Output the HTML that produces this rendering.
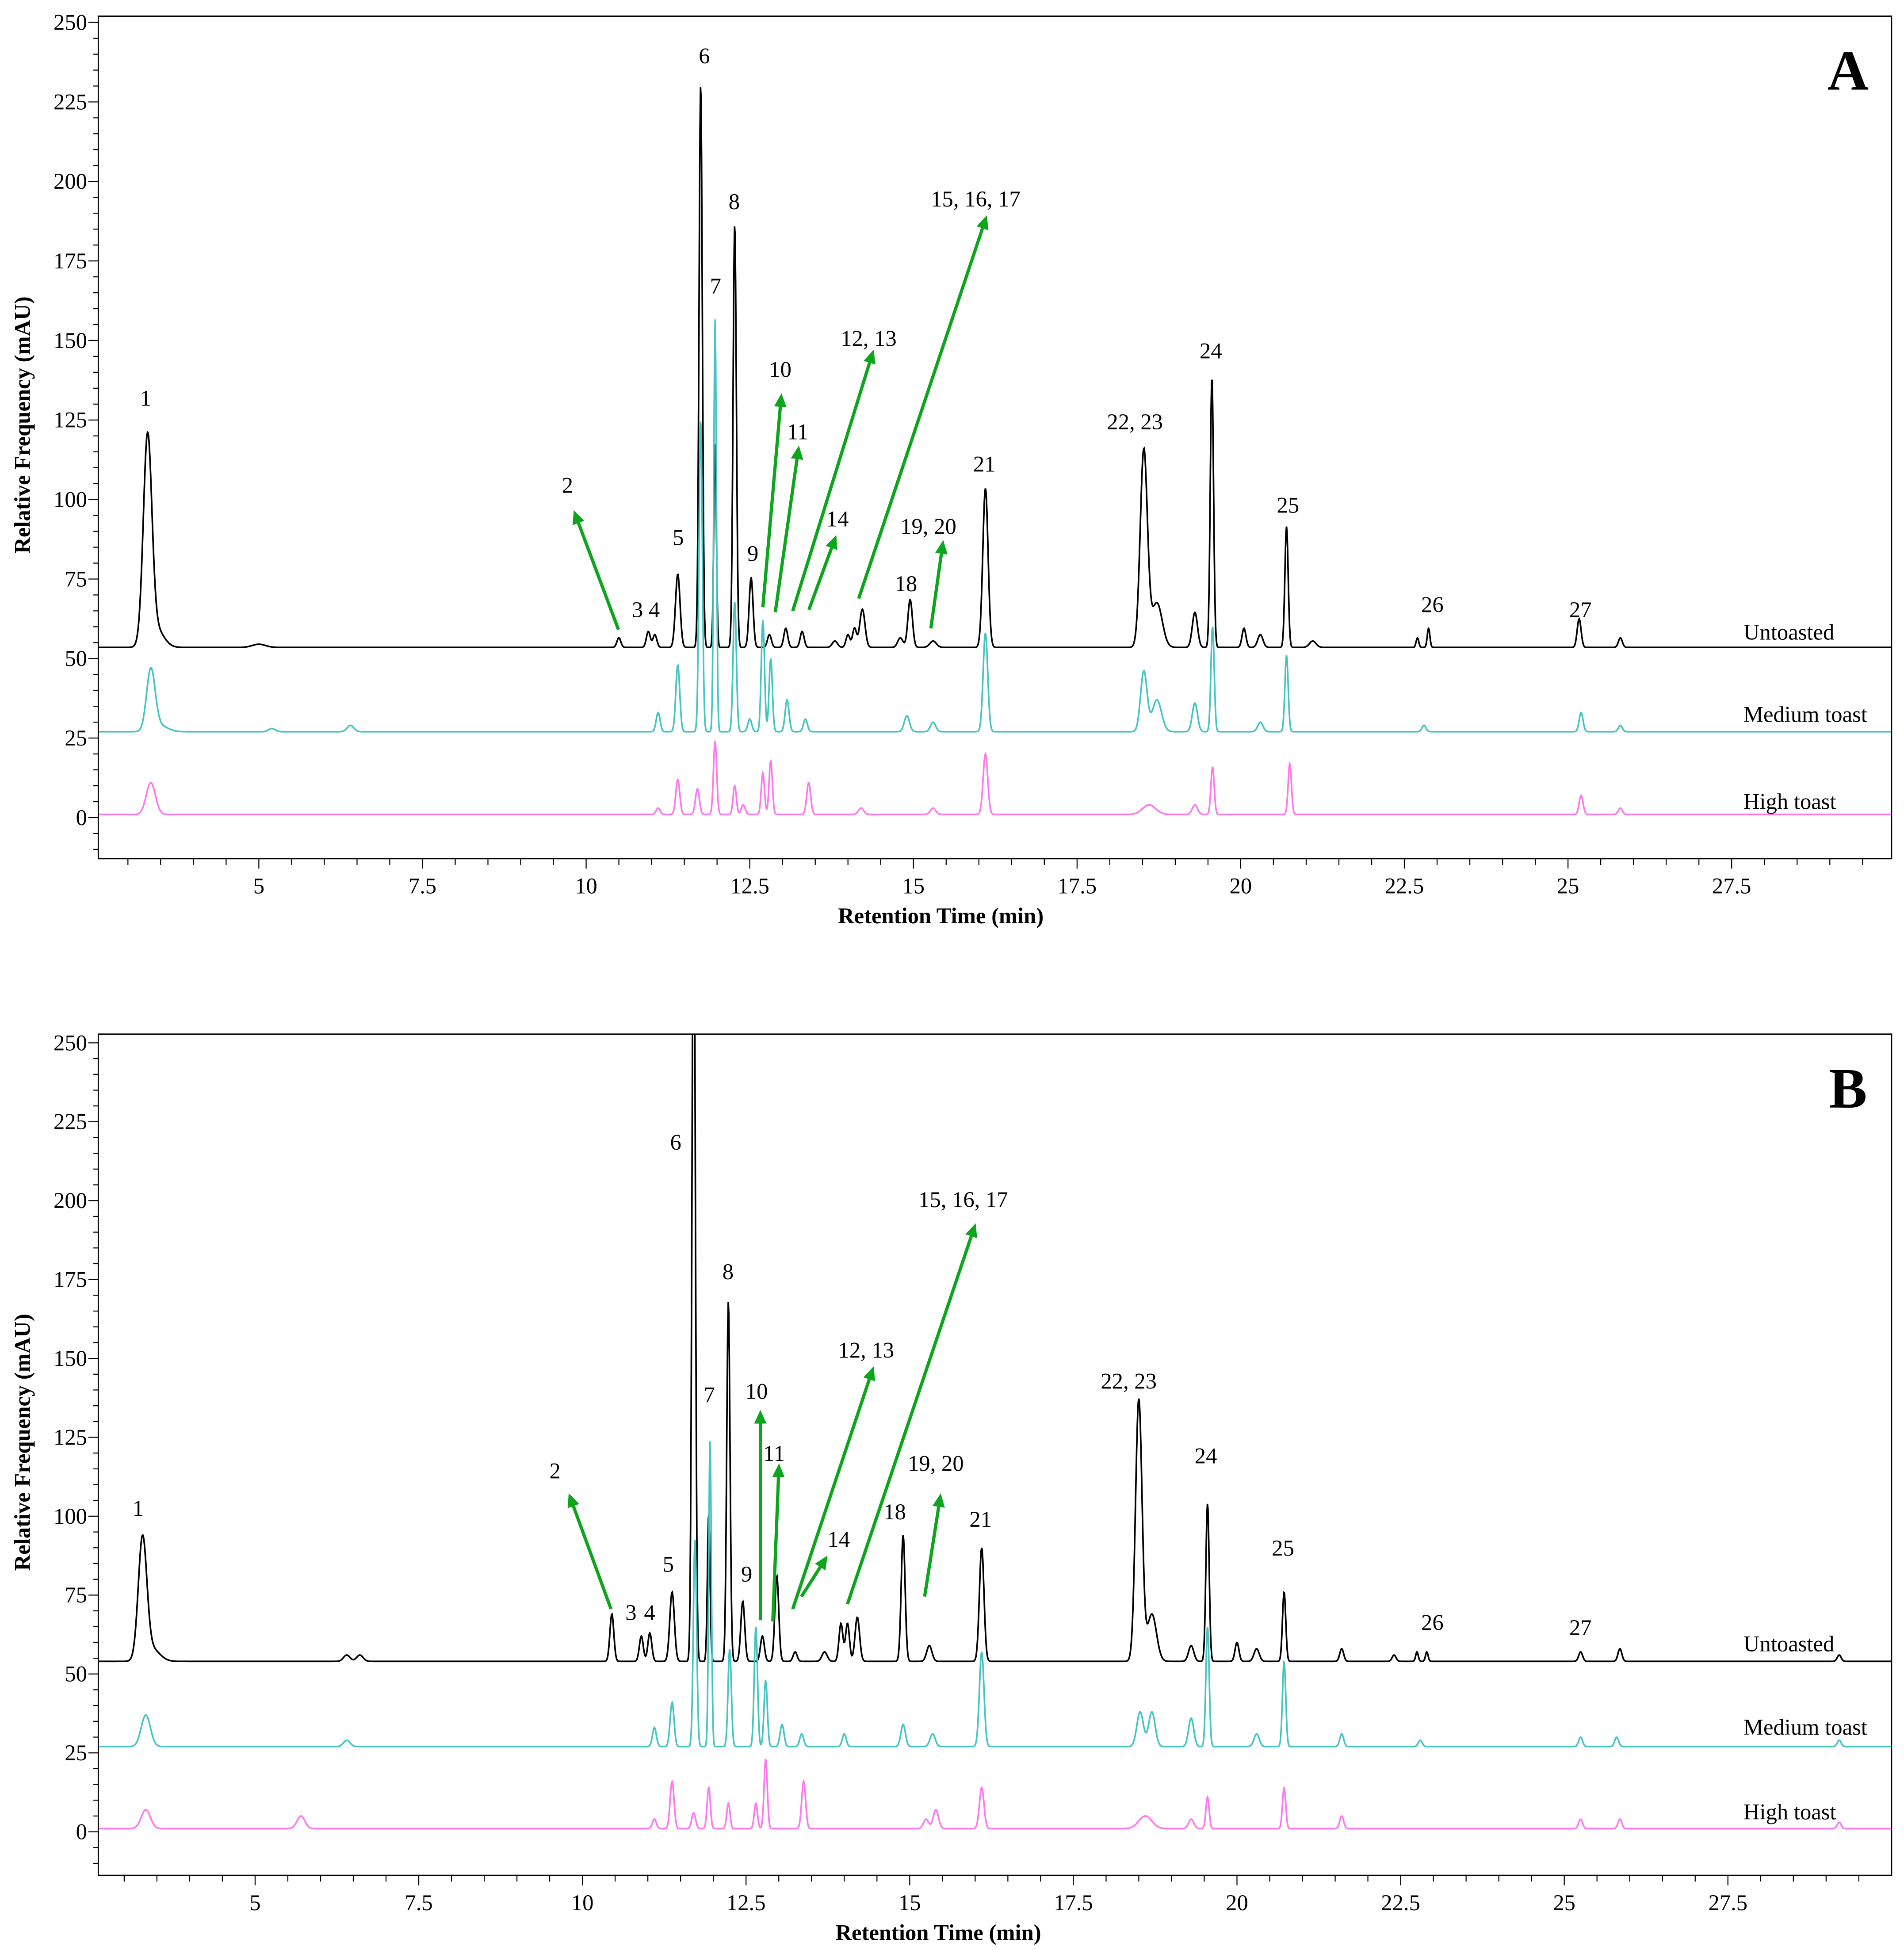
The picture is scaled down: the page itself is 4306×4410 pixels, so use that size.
<!DOCTYPE html>
<html><head><meta charset="utf-8"><style>
html,body{margin:0;padding:0;background:#fff}
svg{display:block}
text{font-family:"Liberation Serif",serif;fill:#000}
</style></head><body>
<svg id="chart" width="4306" height="4410" viewBox="0 0 1530 1567" preserveAspectRatio="none" xmlns="http://www.w3.org/2000/svg">
<rect x="0" y="0" width="1530" height="1567" fill="#fff"/>
</svg>
<script>
// ---- data: peaks [retention time (min), height above baseline (mAU), sigma (min)] ----
const baselinesA = [53.5, 27, 1];
const baselinesB = [54, 27, 1];
const seriesNames = ["Untoasted", "Medium toast", "High toast"];
const untoastedA = [[3.3,64,0.065],[3.42,6,0.12],[5.0,1,0.1],[10.5,3,0.03],[10.95,5,0.03],[11.05,4,0.03],[11.4,23,0.035],[11.75,177,0.025],[11.97,64,0.02],[12.27,133,0.025],[12.52,22,0.03],[12.8,4,0.03],[13.05,6,0.03],[13.3,5,0.03],[13.8,2,0.04],[14.0,4,0.03],[14.1,6,0.03],[14.22,12,0.04],[14.8,3,0.04],[14.95,15,0.035],[15.3,2,0.05],[16.1,50,0.04],[18.52,62,0.055],[18.72,14,0.08],[19.3,11,0.04],[19.56,85,0.025],[20.05,6,0.03],[20.3,4,0.04],[20.7,38,0.025],[21.1,2,0.05],[22.7,3,0.02],[22.87,6,0.02],[25.17,9,0.03],[25.8,3,0.03]];
const mediumA = [[3.35,19,0.065],[3.48,2,0.12],[5.2,1,0.05],[6.4,2,0.05],[11.1,6,0.03],[11.4,21,0.03],[11.75,98,0.025],[11.97,130,0.02],[12.27,41,0.025],[12.5,4,0.03],[12.7,35,0.025],[12.82,23,0.025],[13.07,10,0.03],[13.35,4,0.03],[14.9,5,0.04],[15.3,3,0.04],[16.1,31,0.035],[18.52,19,0.05],[18.72,10,0.07],[19.3,9,0.04],[19.57,33,0.025],[20.3,3,0.04],[20.7,24,0.025],[22.8,2,0.03],[25.2,6,0.03],[25.8,2,0.03]];
const highA = [[3.35,10,0.07],[11.1,2,0.03],[11.4,11,0.03],[11.7,8,0.03],[11.97,23,0.025],[12.27,9,0.025],[12.4,3,0.03],[12.7,13,0.025],[12.82,17,0.025],[13.4,10,0.03],[14.2,2,0.04],[15.3,2,0.04],[16.1,19,0.035],[18.6,3,0.1],[19.3,3,0.04],[19.57,15,0.025],[20.75,16,0.025],[25.2,6,0.03],[25.8,2,0.03]];
const untoastedB = [[3.28,38,0.065],[3.42,4,0.12],[6.4,2,0.05],[6.6,2,0.05],[10.45,15,0.03],[10.9,8,0.03],[11.03,9,0.03],[11.37,22,0.035],[11.7,260,0.025],[11.93,47,0.02],[12.23,114,0.025],[12.45,19,0.03],[12.75,8,0.03],[12.97,27,0.03],[13.25,3,0.03],[13.7,3,0.04],[13.95,12,0.03],[14.05,12,0.03],[14.2,14,0.035],[14.9,40,0.03],[15.3,5,0.04],[16.1,36,0.035],[18.5,83,0.05],[18.7,15,0.07],[19.3,5,0.04],[19.55,50,0.025],[20.0,6,0.03],[20.3,4,0.04],[20.72,22,0.025],[21.6,4,0.03],[22.4,2,0.03],[22.75,3,0.02],[22.9,3,0.02],[25.25,3,0.03],[25.85,4,0.03],[29.2,2,0.03]];
const mediumB = [[3.33,10,0.07],[6.4,2,0.05],[11.1,6,0.03],[11.37,14,0.03],[11.72,66,0.025],[11.95,97,0.02],[12.25,31,0.025],[12.65,38,0.025],[12.8,21,0.025],[13.05,7,0.03],[13.35,4,0.03],[14.0,4,0.03],[14.9,7,0.035],[15.35,4,0.04],[16.1,30,0.035],[18.52,11,0.05],[18.7,11,0.05],[19.3,9,0.04],[19.55,38,0.025],[20.3,4,0.04],[20.72,27,0.025],[21.6,4,0.03],[22.8,2,0.03],[25.25,3,0.03],[25.8,3,0.03],[29.2,2,0.03]];
const highB = [[3.33,6,0.07],[5.7,4,0.06],[11.1,3,0.03],[11.37,15,0.03],[11.7,5,0.03],[11.93,13,0.025],[12.23,8,0.025],[12.65,8,0.025],[12.8,22,0.025],[13.38,15,0.03],[15.25,3,0.04],[15.4,6,0.04],[16.1,13,0.035],[18.6,4,0.1],[19.3,3,0.04],[19.55,10,0.025],[20.72,13,0.025],[21.6,4,0.03],[25.25,3,0.03],[25.85,3,0.03],[29.2,2,0.03]];
const xTickLabels = ["5","7.5","10","12.5","15","17.5","20","22.5","25","27.5"];
const xTickValues = [5,7.5,10,12.5,15,17.5,20,22.5,25,27.5];
const yTickValues = [0,25,50,75,100,125,150,175,200,225,250];
const labelsA = [["1",117,320],["2",456,390],["3 4",519,490],["5",545,432],["6",566,45],["7",575,230],["8",590,162],["9",605,445],["10",627,297],["11",641,347],["12, 13",698,272],["14",673,417],["15, 16, 17",784,160],["18",728,469],["19, 20",746,423],["21",791,373],["22, 23",912,339],["24",973,282],["25",1035,406],["26",1151,486],["27",1270,490]];
const labelsB = [["1",111,1212],["2",446,1182],["3",507,1296],["4",522,1296],["5",537,1257],["6",543,918],["7",570,1121],["8",585,1022],["9",600,1265],["10",608,1118],["11",622,1168],["12, 13",696,1085],["14",674,1237],["15, 16, 17",774,964],["18",719,1215],["19, 20",752,1176],["21",788,1221],["22, 23",907,1110],["24",969,1170],["25",1031,1244],["26",1151,1304],["27",1270,1308]];
const arrowsA = [[497,506,461,410],[613,488,628,316],[623,492,642,358],[637,491,702,281],[650,490,672,430],[690,481,793,173],[748,505,758,434]];
const arrowsB = [[491,1293,457,1200],[611,1302,611,1133],[621,1303,626,1176],[637,1293,702,1098],[644,1283,665,1250],[681,1289,784,983],[743,1283,756,1200]];

const NS = "http://www.w3.org/2000/svg";
const svg = document.getElementById("chart");
function mk(tag, attrs, parent){const e=document.createElementNS(NS,tag);for(const k in attrs)e.setAttribute(k,attrs[k]);(parent||svg).appendChild(e);return e;}
const colors = ["#000000","#45c4c4","#ff77ee"];

function panel(cfg){
  const g = mk("g",{});
  
  
  const L=79,R=1520,T=cfg.top,B=cfg.bottom;
  const xs = t => cfg.x5 + (t-5)*52.6;
  const ys = v => cfg.y0 - v*cfg.ppu;
  const tMax = 5 + (R-cfg.x5)/52.6;
  const clipId = "clip"+cfg.letter;
  const cp = mk("clipPath",{id:clipId},g); mk("rect",{x:L,y:T,width:R-L,height:B-T},cp);
  cfg.series.forEach((peaks,i)=>{
    let pts=[];
    for(let t=5+(L-cfg.x5)/52.6; t<=tMax; t+=0.008){
      let v=cfg.base[i];
      for(const p of peaks){const d=(t-p[0])/p[2]; if(Math.abs(d)<6) v+=p[1]*Math.exp(-0.5*d*d);}
      pts.push(xs(t).toFixed(2)+","+ys(v).toFixed(2));
    }
    const pl = mk("polyline",{points:pts.join(" "),fill:"none",stroke:colors[i],"stroke-width":1.3,"clip-path":"url(#"+clipId+")"},g);
    
    
  });
  const fr = mk("rect",{x:L,y:T,width:R-L,height:B-T,fill:"none",stroke:"#000","stroke-width":1},g);
  
  
  for(let v=-10; v<=250; v+=5){
    const y=ys(v); if(y<T||y>B) continue;
    const major = v%25===0;
    mk("line",{x1:L-(major?8:4),x2:L,y1:y,y2:y,stroke:"#000","stroke-width":0.8},g);
  }
  yTickValues.forEach(v=>{
    const tx=mk("text",{x:70,y:ys(v)+6,"text-anchor":"end","font-size":18},g); tx.textContent=v;
    
    
  });
  for(let t=3; t<=29.5; t+=0.5){
    const x=xs(t); if(x<L||x>R) continue;
    mk("line",{x1:x,x2:x,y1:B,y2:B+(Math.abs(t*2/5-Math.round(t*2/5))<1e-6?8:5),stroke:"#000","stroke-width":0.8},g);
  }
  xTickValues.forEach((t,i)=>{
    const tx=mk("text",{x:xs(t),y:B+28,"text-anchor":"middle","font-size":18},g); tx.textContent=xTickLabels[i];
    
    
  });
  const xt=mk("text",{x:cfg.xlabelX,y:B+52,"text-anchor":"middle","font-size":18,"font-weight":"bold"},g); xt.textContent="Retention Time (min)";
  
  
  const yc=(T+B)/2;
  const yt=mk("text",{x:0,y:0,"text-anchor":"middle","font-size":18,"font-weight":"bold",transform:"translate(24,"+(yc-10)+") rotate(-90)"},g); yt.textContent="Relative Frequency (mAU)";
  
  
  const pl=mk("text",{x:1485,y:cfg.letterY,"text-anchor":"middle","font-size":46,"font-weight":"bold"},g); pl.textContent=cfg.letter;
  
  
  cfg.legendY.forEach((y,i)=>{
    const t=mk("text",{x:1401,y:y,"font-size":18},g); t.textContent=seriesNames[i];
    
    
  });
  cfg.arrows.forEach(a=>{
    const [x1,y1,x2,y2]=a; const ang=Math.atan2(y2-y1,x2-x1); const len=11, w=5;
    const bx=x2-len*Math.cos(ang), by=y2-len*Math.sin(ang);
    mk("line",{x1:x1,y1:y1,x2:bx,y2:by,stroke:"#0ca51c","stroke-width":2.6},g);
    const p=mk("polygon",{points:`${x2},${y2} ${bx+w*Math.sin(ang)},${by-w*Math.cos(ang)} ${bx-w*Math.sin(ang)},${by+w*Math.cos(ang)}`,fill:"#0ca51c"},g);
    
    
  });
  cfg.labels.forEach(l=>{
    const t=mk("text",{x:l[1],y:l[2]+6,"text-anchor":"middle","font-size":18},g); t.textContent=l[0];
    
    
  });
}
panel({name:"panel-a",letter:"A",top:13,bottom:690,x5:208,y0:657,ppu:2.556,series:[untoastedA,mediumA,highA],base:baselinesA,labels:labelsA,arrows:arrowsA,legendY:[514,580,650],letterY:72,xlabelX:756});
panel({name:"panel-b",letter:"B",top:831,bottom:1507,x5:205,y0:1472,ppu:2.536,series:[untoastedB,mediumB,highB],base:baselinesB,labels:labelsB,arrows:arrowsB,legendY:[1327,1394,1462],letterY:890,xlabelX:754});
</script>
</body></html>
